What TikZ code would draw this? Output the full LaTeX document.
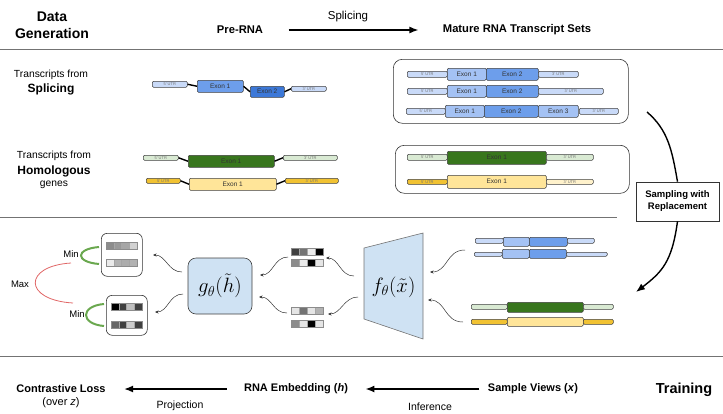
\documentclass[tikz,border=0pt]{standalone}
\usepackage{fontspec}
\setmainfont{Liberation Sans}
\usetikzlibrary{arrows.meta}
\definecolor{utrB}{HTML}{C9DAF8}
\definecolor{exBa}{HTML}{A4C2F4}
\definecolor{exBb}{HTML}{6D9EEB}
\definecolor{exBc}{HTML}{3C78D8}
\definecolor{utrG}{HTML}{D9EAD3}
\definecolor{exG}{HTML}{38761D}
\definecolor{utrY}{HTML}{F1C232}
\definecolor{exY}{HTML}{FFE599}
\definecolor{utrYl}{HTML}{FFF2CC}
\definecolor{boxB}{HTML}{CFE2F3}
\definecolor{arcG}{HTML}{6AA84F}
\definecolor{arcR}{HTML}{E06666}
\newcommand\seg[7]{\node[#6, anchor=north west, minimum width={(#4-#2)*1pt}, minimum height={(#5-#3)*1pt}] (#1) at (#2,#3) {#7};}
\newcommand\vrow[7]{%
  \foreach[count=\i from 0] \c in {#4,#5,#6,#7}{\filldraw[fill=\c, draw=black!35, line width=0.3pt] ({#1+\i*#3},#2) rectangle ++(#3,7);}
  \draw[black!45, line width=0.4pt] (#1,#2) rectangle ++({4*#3},7);}
\tikzset{
  segbox/.style={draw=black!75, line width=0.5pt, rounded corners=1.2pt, inner sep=0pt, font=\fontsize{6.5}{7}\selectfont, text=black!80},
  utrbox/.style={segbox, font=\fontsize{4}{4.5}\selectfont, text=black!55},
  intron/.style={line width=1.4pt, black},
  setbox/.style={draw=black!80, line width=0.6pt, rounded corners=9pt, inner sep=0pt},
  bigarr/.style={line width=1.4pt, -{Latex[length=9pt,width=7pt]}},
  wav/.style={draw=black!80, line width=0.5pt, -{Stealth[length=3.5pt,width=3pt]}},
  lbl/.style={font=\fontsize{10.3}{12}\selectfont, align=center},
  hdr/.style={font=\fontsize{11.2}{13}\selectfont\bfseries},
  sub/.style={font=\fontsize{12}{14}\selectfont\bfseries},
  bot/.style={font=\fontsize{11}{13}\selectfont},
  botb/.style={font=\fontsize{11}{13}\selectfont\bfseries},
  small/.style={font=\fontsize{9.5}{11}\selectfont},
  sep/.style={draw=black!55, line width=0.9pt},
}
\begin{document}
\begin{tikzpicture}[x=1pt, y=-1pt]
\useasboundingbox (0,0) rectangle (723,413);
% separators
\draw[sep] (0,49) -- (723,49);
\draw[sep] (0,217) -- (617,217);
\draw[sep] (0,356) -- (723,356);
% header
\node[font=\fontsize{14}{17}\selectfont\bfseries, align=center] (dg) at (52,25.5) {Data\\Generation};
\node[hdr] (pre) at (240,30) {Pre-RNA};
\node[hdr] (mat) at (517,30) {Mature RNA Transcript Sets};
\draw[bigarr, shorten <=22pt, shorten >=21pt] (pre.east) -- (mat.west);
\node[font=\fontsize{11.5}{13}\selectfont] (spl) at (348,17) {Splicing};
% splicing labels
\node[lbl] (tf1) at (51,75) {Transcripts from};
\node[sub] (sp1) at (51,89) {Splicing};
\node[lbl] (tf2) at (54,156) {Transcripts from};
\node[sub] (ho1) at (54,171) {Homologous};
\node[lbl] (ge1) at (54,185) {genes};
% pre-RNA splicing row
\seg{pu5}{152}{81}{187}{87}{utrbox, fill=utrB}{5' UTR}
\seg{pe1}{197}{80}{243}{92}{segbox, fill=exBb}{Exon 1}
\seg{pe2}{250}{86}{284}{97}{segbox, fill=exBc}{Exon 2}
\seg{pu3}{291}{86}{326}{91}{utrbox, fill=utrB}{3' UTR}
\draw[intron] (pu5.east) -- (pe1.west);
\draw[intron] (pe1.east) -- (pe2.west);
\draw[intron] (pe2.east) -- (pu3.west);
% mature set A
\seg{setA}{393}{59}{628}{123}{setbox}{}
\seg{a1u5}{407}{71}{447}{77}{utrbox, fill=utrB}{5' UTR}
\seg{a1e1}{447}{68}{486}{80}{segbox, fill=exBa}{Exon 1}
\seg{a1e2}{486}{68}{538}{80}{segbox, fill=exBb}{Exon 2}
\seg{a1u3}{538}{71}{578}{77}{utrbox, fill=utrB}{3' UTR}
\seg{a2u5}{407}{88}{447}{94}{utrbox, fill=utrB}{5' UTR}
\seg{a2e1}{447}{85}{486}{97}{segbox, fill=exBa}{Exon 1}
\seg{a2e2}{486}{85}{538}{97}{segbox, fill=exBb}{Exon 2}
\seg{a2u3}{538}{88}{603}{94}{utrbox, fill=utrB}{3' UTR}
\seg{a3u5}{406}{108}{445}{114}{utrbox, fill=utrB}{5' UTR}
\seg{a3e1}{445}{105}{484}{117}{segbox, fill=exBa}{Exon 1}
\seg{a3e2}{484}{105}{538}{117}{segbox, fill=exBb}{Exon 2}
\seg{a3e3}{538}{105}{578}{117}{segbox, fill=exBa}{Exon 3}
\seg{a3u3}{579}{108}{618}{114}{utrbox, fill=utrB}{3' UTR}
% homologous left
\seg{hg5}{143}{155}{178}{160}{utrbox, fill=utrG}{5' UTR}
\seg{hge}{188}{155}{274}{167}{segbox, fill=exG}{Exon 1}
\seg{hg3}{283}{155}{337}{160}{utrbox, fill=utrG}{3' UTR}
\seg{hy5}{146}{178}{180}{183}{utrbox, fill=utrY}{5' UTR}
\seg{hye}{189}{178}{276}{190}{segbox, fill=exY}{Exon 1}
\seg{hy3}{285}{178}{338}{183}{utrbox, fill=utrY}{3' UTR}
\draw[intron] (hg5.east) -- (hge.west);
\draw[intron] (hge.east) -- (hg3.west);
\draw[intron] (hy5.east) -- (hye.west);
\draw[intron] (hye.east) -- (hy3.west);
% homologous set B
\seg{setB}{395}{145}{629}{193}{setbox}{}
\seg{bgu5}{407}{154}{447}{160}{utrbox, fill=utrG}{5' UTR}
\seg{bge}{447}{151}{546}{164}{segbox, fill=exG}{Exon 1}
\seg{bgu3}{546}{154}{593}{160}{utrbox, fill=utrG}{3' UTR}
\seg{byu5}{407}{179}{447}{184}{utrbox, fill=utrY}{5' UTR}
\seg{bye}{447}{175}{546}{188}{segbox, fill=exY}{Exon 1}
\seg{byu3}{546}{179}{593}{184}{utrbox, fill=utrYl}{3' UTR}
% sampling
\node[draw=black!80, line width=0.6pt, font=\fontsize{9.5}{12}\selectfont\bfseries, align=center, minimum width=83pt, minimum height=39pt, inner sep=0pt] (sbox) at (677.5,201.5) {Sampling with\\Replacement};
\coordinate (sst) at (647,112);
\coordinate (stip) at (636,292);
\draw[line width=1.4pt] (sst) .. controls (668,130) and (672,150) .. (sbox.north);
\draw[bigarr] (sbox.south) .. controls (672,262) and (662,272) .. (stip);
% sample views transcripts
\seg{c1u5}{475}{238}{503}{243}{utrbox, fill=utrB}{}
\seg{c1e1}{503}{237}{529}{246}{segbox, fill=exBa}{}
\seg{c1e2}{529}{237}{567}{246}{segbox, fill=exBb}{}
\seg{c1u3}{567}{238}{594}{243}{utrbox, fill=utrB}{}
\seg{c2u5}{474}{252}{502}{256}{utrbox, fill=utrB}{}
\seg{c2e1}{502}{249}{529}{258}{segbox, fill=exBa}{}
\seg{c2e2}{529}{249}{566}{258}{segbox, fill=exBb}{}
\seg{c2u3}{566}{252}{607}{256}{utrbox, fill=utrB}{}
\seg{c3u5}{471}{304}{507}{309}{utrbox, fill=utrG}{}
\seg{c3e}{507}{302}{583}{312}{segbox, fill=exG}{}
\seg{c3u3}{583}{304}{613}{309}{utrbox, fill=utrG}{}
\seg{c4u5}{471}{319}{507}{324}{utrbox, fill=utrY}{}
\seg{c4e}{507}{317}{583}{326}{segbox, fill=exY}{}
\seg{c4u3}{583}{319}{613}{324}{utrbox, fill=utrY}{}
% encoder trapezoid
\draw[fill=boxB, draw=black!55, line width=0.6pt] (364,248) -- (423,233) -- (423,339) -- (364,319) -- cycle;
\node[font=\fontsize{21}{24}\selectfont, inner sep=0pt] (fnode) at (393.5,287) {$f_\theta(\tilde{x})$};
% projection head
\node[draw=black!75, fill=boxB, line width=0.6pt, rounded corners=8pt, minimum width=64pt, minimum height=56pt, inner sep=0pt, font=\fontsize{21}{24}\selectfont] (gbox) at (220,286) {$g_\theta(\tilde{h})$};
% embedding pairs
\vrow{291}{248}{8}{black!75}{black!55}{black!8}{black}
\vrow{291}{259.5}{8}{black!45}{black!8}{black}{black!10}
\vrow{291}{307}{8}{black!10}{black!55}{black!10}{black!30}
\vrow{291}{320}{8}{black!45}{black!10}{black}{black!10}
% output boxes
\seg{ob1}{101}{233}{142}{276}{setbox, rounded corners=6pt}{}
\seg{ob2}{106}{295}{147}{335}{setbox, rounded corners=6pt}{}
\vrow{106}{242}{7.75}{black!45}{black!40}{black!35}{black!18}
\vrow{106}{259}{7.75}{black!8}{black!30}{black!32}{black!30}
\vrow{111}{303}{7.75}{black}{black!75}{black!25}{black!75}
\vrow{111}{321}{7.75}{black!60}{black!75}{black!20}{black!75}
% arcs
\coordinate (m1a) at (99,247); \coordinate (m1b) at (99,264);
\coordinate (m2a) at (104,304); \coordinate (m2b) at (104,326);
\coordinate (xa) at (71,263); \coordinate (xb) at (73,303);
\draw[arcG, line width=2pt] (m1a) .. controls (75,249) and (75,262) .. (m1b);
\draw[arcG, line width=2pt] (m2a) .. controls (80,306) and (80,324) .. (m2b);
\draw[arcR, line width=0.8pt] (xa) .. controls (23,266) and (23,300) .. (xb);
\node[small] (min1) at (71,254) {Min};
\node[small] (min2) at (77,314) {Min};
\node[small] (max1) at (20,284) {Max};
% wavy arrows
\coordinate (w1a) at (182,272); \coordinate (w1b) at (153,255);
\coordinate (w2a) at (183,294); \coordinate (w2b) at (155,312);
\coordinate (w3a) at (288,257); \coordinate (w3b) at (260,275);
\coordinate (w4a) at (287,313); \coordinate (w4b) at (259,297);
\coordinate (w5a) at (354,276); \coordinate (w5b) at (326,258);
\coordinate (w6a) at (358,297); \coordinate (w6b) at (328,314);
\coordinate (w7a) at (465,250); \coordinate (w7b) at (430,272);
\coordinate (w8a) at (463,322); \coordinate (w8b) at (428,300);
\draw[wav] (w1a) .. controls (168,272) and (166,255) .. (w1b);
\draw[wav] (w2a) .. controls (169,294) and (168,312) .. (w2b);
\draw[wav] (w3a) .. controls (274,257) and (273,275) .. (w3b);
\draw[wav] (w4a) .. controls (273,313) and (272,297) .. (w4b);
\draw[wav] (w5a) .. controls (340,276) and (339,258) .. (w5b);
\draw[wav] (w6a) .. controls (344,297) and (341,314) .. (w6b);
\draw[wav] (w7a) .. controls (446,250) and (448,272) .. (w7b);
\draw[wav] (w8a) .. controls (444,322) and (446,300) .. (w8b);
% bottom row
\node[bot, align=center] (cl) at (61,396) {\textbf{Contrastive Loss}\\(over \textit{z})};
\node[botb] (emb) at (296,389) {RNA Embedding (\textit{h})};
\node[botb] (sv) at (533,389) {Sample Views (\textit{x})};
\node[font=\fontsize{14.5}{16}\selectfont\bfseries] (tr) at (684,390) {Training};
\draw[bigarr, shorten <=5pt, shorten >=14pt] (sv.west) -- (emb.east |- sv.west);
\draw[bigarr, shorten <=14pt, shorten >=15pt] (emb.west) -- (cl.east |- emb.west);
\node[font=\fontsize{10.5}{12}\selectfont] (proj) at (180,406) {Projection};
\node[font=\fontsize{10.5}{12}\selectfont] (inf) at (430,407) {Inference};
\end{tikzpicture}
\end{document}
